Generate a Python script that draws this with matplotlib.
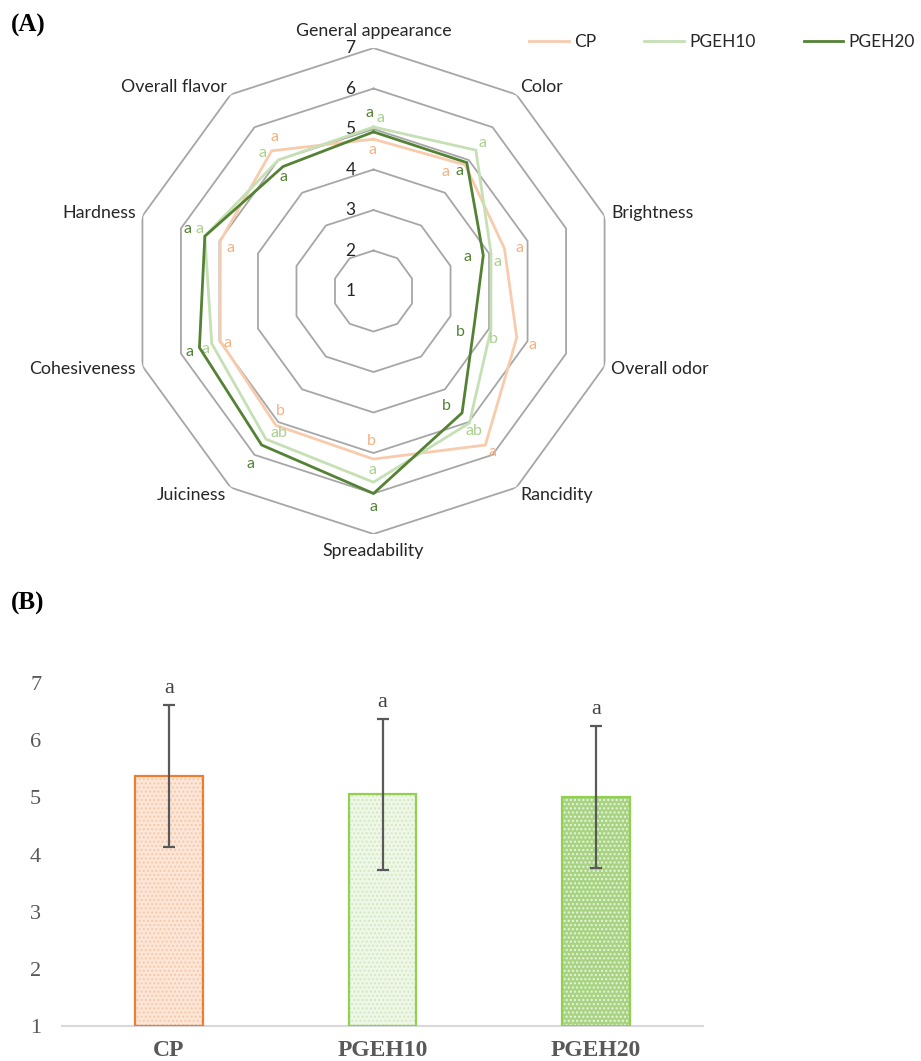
import numpy as np
import matplotlib
matplotlib.use("Agg")
import matplotlib.pyplot as plt

# ---- sensory attributes (radar) ----
attributes = ["General appearance", "Color", "Brightness", "Overall odor", "Rancidity",
              "Spreadability", "Juiciness", "Cohesiveness", "Hardness", "Overall flavor"]
cp_scores = [4.75, 4.85, 4.40, 4.72, 5.70, 5.15, 5.10, 4.98, 4.98, 5.28]
pgeh10_scores = [5.05, 5.30, 4.05, 4.05, 5.03, 5.72, 5.52, 5.20, 5.38, 5.00]
pgeh20_scores = [4.93, 4.92, 3.85, 3.62, 4.72, 6.00, 5.70, 5.52, 5.38, 4.80]
cp_letters = ["a", "a", "a", "a", "a", "b", "b", "a", "a", "a"]
pgeh10_letters = ["a", "a", "a", "b", "ab", "a", "ab", "a", "a", "a"]
pgeh20_letters = ["a", "a", "a", "b", "b", "a", "a", "a", "a", "a"]
ring_values = [1, 2, 3, 4, 5, 6, 7]

# ---- overall acceptability (bars) ----
samples = ["CP", "PGEH10", "PGEH20"]
overall_mean = [5.37, 5.05, 5.00]
overall_sd = [1.24, 1.32, 1.24]
overall_letters = ["a", "a", "a"]

# letter offsets (pixels) next to each radar vertex
cp_off = [(-1, -11), (-20, -7), (15, 0), (16, -7), (7, -7),
          (-2, 18), (4, 14), (7, -2), (10, -7), (3, 14)]
p10_off = [(7, 9), (7, 7), (7, -9), (2, -10), (5, -8),
           (-1, 12), (13, 6), (-6, -5), (-5, 7), (-16, 7)]
p20_off = [(-4, 19), (-7, -8), (-16, -2), (-14, -8), (-16, 7),
           (0, -13), (-11, -19), (-10, -4), (-17, 7), (0, -10)]

SANS = "Lato"
SERIF = "Liberation Serif"
GRID = "#A6A6A6"
TXT = "#262626"

fig = plt.figure(figsize=(9.21, 10.61), dpi=100)

# ---------------- (A) radar ----------------
ax = fig.add_axes([0.1417, 0.4967, 0.5277, 0.458], projection="polar")
ax.set_theta_zero_location("N")
ax.set_theta_direction(-1)
ax.set_ylim(1, 7)
ax.grid(False)
ax.set_xticks([])
ax.set_yticks([])
ax.spines["polar"].set_visible(False)
ax.patch.set_visible(False)

n = len(attributes)
theta = np.arange(n) * 2 * np.pi / n
closed = np.append(theta, theta[0])

for v in ring_values[1:]:
    ax.plot(closed, [v] * (n + 1), color=GRID, lw=1.3, zorder=1)
for v in ring_values:
    ax.annotate(str(v), xy=(0, v), xytext=(-23, 0), textcoords="offset pixels",
                ha="center", va="center", fontsize=12.5, family=SANS, color=TXT)

series = [
    ("CP", cp_scores, cp_letters, cp_off, "#F8CBAD", "#F4B183", 2.0),
    ("PGEH10", pgeh10_scores, pgeh10_letters, p10_off, "#C5E0B4", "#A9D18E", 2.0),
    ("PGEH20", pgeh20_scores, pgeh20_letters, p20_off, "#548235", "#548235", 2.0),
]
for name, vals, letters, offs, lc, tc, lw in series:
    ax.plot(closed, list(vals) + [vals[0]], color=lc, lw=lw, zorder=3,
            solid_joinstyle="miter", label=name)
    for t, v, s, o in zip(theta, vals, letters, offs):
        ax.annotate(s, xy=(t, v), xytext=o, textcoords="offset pixels",
                    ha="center", va="center", fontsize=11.5, family=SANS, color=tc)

for t, name in zip(theta, attributes):
    s, c = np.sin(t), np.cos(t)
    ha = "center" if abs(s) < 0.1 else ("left" if s > 0 else "right")
    va = "bottom" if c > 0.99 else ("top" if c < -0.99 else "center")
    ax.annotate(name, xy=(t, 7), xytext=(7 * s, 9 * c), textcoords="offset pixels",
                ha=ha, va=va, fontsize=12.8, family=SANS, color=TXT)

fig.legend(*ax.get_legend_handles_labels(), loc="center right",
           bbox_to_anchor=(1.003, 0.960), ncol=3, frameon=False,
           prop={"family": SANS, "size": 12.5}, handlelength=2.3,
           columnspacing=2.75, handletextpad=0.3, labelcolor=TXT, borderpad=0)

fig.text(0.012, 0.976, "(A)", family=SERIF, weight="bold", fontsize=18,
         va="center", ha="left", color="black")
fig.text(0.012, 0.431, "(B)", family=SERIF, weight="bold", fontsize=18,
         va="center", ha="left", color="black")

# ---------------- (B) bars ----------------
bx = fig.add_axes([62 / 921, 1 - 1026 / 1061, 641 / 921, 343 / 1061])
x = np.arange(len(samples))
face = ["#FCE6D8", "#EFF7E8", "#A8D383"]
dots = ["#F6C9AA", "#D3E9BF", "#E9F5DE"]
edges = ["#ED7D31", "#92D050", "#92D050"]
w = 0.316
bx.bar(x, np.array(overall_mean) - 1, w, bottom=1, color=face, edgecolor=dots,
       hatch="....", lw=0, zorder=2)
bx.bar(x, np.array(overall_mean) - 1, w, bottom=1, color="none", edgecolor=edges,
       lw=1.6, zorder=3)
bx.errorbar(x, overall_mean, yerr=overall_sd, fmt="none", ecolor="#595959",
            elinewidth=1.6, capsize=4, capthick=1.6, zorder=4)
for xi, m, sd, s in zip(x, overall_mean, overall_sd, overall_letters):
    bx.annotate(s, xy=(xi, m + sd), xytext=(0, 7), textcoords="offset pixels",
                ha="center", va="bottom", fontsize=16, family=SERIF, color="#404040",
                annotation_clip=False)

bx.set_xlim(-0.5, 2.5)
bx.set_ylim(1, 7)
bx.set_yticks(range(1, 8))
bx.set_xticks(x)
bx.set_xticklabels(samples, family=SERIF, weight="bold", fontsize=17, color="#595959")
bx.tick_params(axis="y", length=0, pad=15, labelsize=16, labelcolor="#595959")
bx.tick_params(axis="x", length=0, pad=10)
for lab in bx.get_yticklabels():
    lab.set_family(SERIF)
for side in ["left", "right", "top"]:
    bx.spines[side].set_visible(False)
bx.spines["bottom"].set_color("#D9D9D9")
bx.spines["bottom"].set_linewidth(1.5)

fig.savefig("out.png", dpi=100)
